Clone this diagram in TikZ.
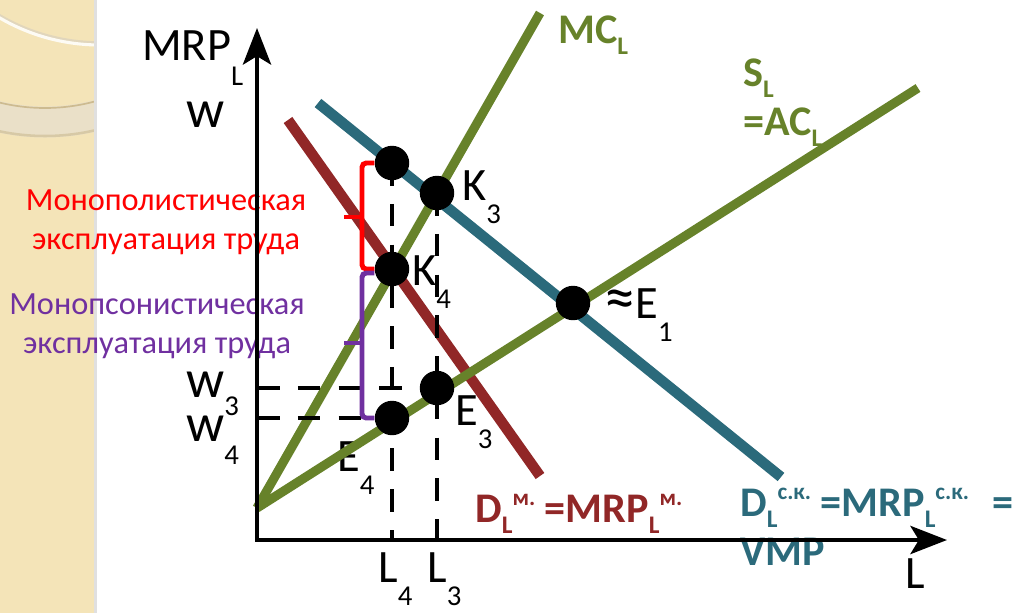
\documentclass[tikz,border=0pt]{standalone}
\usepackage{fontspec}
\setmainfont{Carlito}
\usetikzlibrary{arrows,arrows.meta}

\definecolor{mcgreen}{HTML}{67822A}
\definecolor{monored}{HTML}{912727}
\definecolor{compblue}{HTML}{2B6A7B}
\definecolor{psonviolet}{HTML}{7030A0}
\definecolor{paper}{HTML}{F4E4B8}
\definecolor{paperband}{HTML}{EAE0C8}
\definecolor{paperedge}{HTML}{CDBB90}

% sub- and superscripts in text font
\newcommand{\lo}[1]{\raisebox{-0.5em}{\scalebox{0.62}{#1}}}
\newcommand{\wlo}[1]{\raisebox{-0.4em}{\scalebox{0.62}{#1}}}
\newcommand{\dn}[1]{\raisebox{-0.28em}{\scalebox{0.6}{#1}}}
\newcommand{\up}[1]{\raisebox{0.38em}{\scalebox{0.55}{#1}}}

\tikzstyle{axis} = [line width=3.2pt, {Stealth[length=26pt,width=20pt,inset=6pt]}-{Stealth[length=26pt,width=20pt,inset=6pt]}]
\tikzstyle{curve} = [line width=7.5pt]
\tikzstyle{supply} = [line width=6.5pt, draw=mcgreen]
\tikzstyle{guide} = [line width=3pt, dash pattern=on 16pt off 13pt]
\tikzstyle{spot} = [circle, fill=black, inner sep=0pt, minimum size=24.5pt]
\tikzstyle{brace} = [line width=3.5pt, rounded corners=3pt]
\tikzstyle{lbl} = [font=\fontsize{33}{36}\selectfont, inner sep=0pt, anchor=base west]
\tikzstyle{blbl} = [font=\fontsize{30}{34}\selectfont\bfseries, inner sep=0pt, anchor=base west]
\tikzstyle{txt} = [font=\fontsize{23}{28}\selectfont, align=center, inner sep=0pt]

\begin{document}
\begin{tikzpicture}[x=0.025cm, y=-0.025cm]
    \useasboundingbox (0,0) rectangle (1026,613);
    % decorated strip on the left
    \fill[paper] (0,0) rectangle (95,613);
    \begin{scope}
      \clip (0,0) rectangle (95,613);
      \draw[line width=22pt, paperband] (45,-83) circle [radius=205];
      \draw[line width=1.2pt, paperedge] (45,-83) circle [radius=191];
      \draw[line width=1.8pt, paperedge!80] (45,-83) circle [radius=219];
      \draw[line width=2.5pt, paperedge!60] (100,-156) circle [radius=199];
      \draw[line width=2.2pt, white!85!paper] (100,-154) circle [radius=199];
    \end{scope}
    \draw[line width=1.5pt, black!12] (95.5,0) -- (95.5,613);

    % Place points
    \coordinate (O) at (257,540);
    \coordinate (ytip) at (257,28);
    \coordinate (xtip) at (947,540);
    \coordinate (mc0) at (257,508);
    \coordinate (mc1) at (540,13);
    \coordinate (s1) at (918,88);
    \coordinate (dm0) at (288,120);
    \coordinate (dm1) at (540,476);
    \coordinate (dc0) at (318,103);
    \coordinate (dc1) at (781,477);

    % Place labels
    \node[lbl] (mrp) at (142,60) {MRP\raisebox{-0.55em}{\scalebox{0.62}{L}}};
    \node[lbl] (wtop) at (186,127) {\scalebox{1.15}{w}};
    \node[lbl] (w3) at (186,397) {\scalebox{1.15}{w}\wlo{3}};
    \node[lbl] (w4) at (186,441) {\scalebox{1.15}{w}\lo{4}};
    \node[lbl] (k3) at (462,200) {K\lo{3}};
    \node[lbl] (k4) at (412,285) {K\lo{4}};
    \node[lbl] (e1) at (604,318) {\scalebox{1.35}{≈}E\lo{1}};
    \node[lbl] (e3) at (455,425) {E\lo{3}};
    \node[lbl] (e4) at (337,471) {E\lo{4}};
    \node[lbl] (l4) at (378,582) {L\lo{4}};
    \node[lbl] (l3) at (427,582) {L\lo{3}};
    \node[lbl] (lax) at (905,588) {L};
    \node[blbl, text=mcgreen] (mcl) at (558,43) {MC\dn{L}};
    \node[blbl, text=mcgreen] (sl) at (743,86) {S\dn{L}};
    \node[blbl, text=mcgreen] (acl) at (743,135) {=AC\dn{L}};
    \node[blbl, text=monored] (dmono) at (475,522) {D\dn{L}\up{м.} =MRP\dn{L}\up{м.}};
    \node[blbl, text=compblue] (dcomp) at (740,516) {D\dn{L}\up{с.к.} =MRP\dn{L}\up{с.к.}\hspace{0.55em}=};
    \node[blbl, text=compblue] (vmp) at (740,565) {VMP};
    \node[txt, text=red] (monopoly) at (166,222) {Монополистическая\\эксплуатация труда};
    \node[txt, text=psonviolet] (monopsony) at (157,326) {Монопсонистическая\\эксплуатация труда};

    % Draw curves
    \draw[curve, monored] (dm0) -- (dm1);
    \draw[curve, compblue] (dc0) -- (dc1);
    \draw[supply] (mc0) -- (mc1);
    \draw[supply] (mc0) -- (s1);

    % Place equilibrium points
    \node[spot] (a4) at (392,163) {};
    \node[spot] (K3) at (437,193) {};
    \node[spot] (K4) at (392,269) {};
    \node[spot] (E1) at (573,303) {};
    \node[spot] (E3) at (437,388) {};
    \node[spot] (E4) at (392,418) {};

    % Draw guides
    \draw[guide] (a4.center) -- (a4 |- O);
    \draw[guide] (K3.center) -- (K3 |- O);
    \draw[guide] (O |- E3) -- (E3.center);
    \draw[guide] (O |- E4) -- (E4.center);

    % Draw braces
    \draw[brace, red] (a4.west) -- (362,163) -- (362,269) -- (K4.west);
    \draw[brace, red] (362,217) -- (344,217);
    \draw[brace, psonviolet] (K4.west) ++(0,4) -- (362,273) -- (362,418) -- (E4.west);
    \draw[brace, psonviolet] (362,343) -- (344,343);

    % Draw axes
    \draw[axis] (ytip) -- (O) -- (xtip);
\end{tikzpicture}
\end{document}
